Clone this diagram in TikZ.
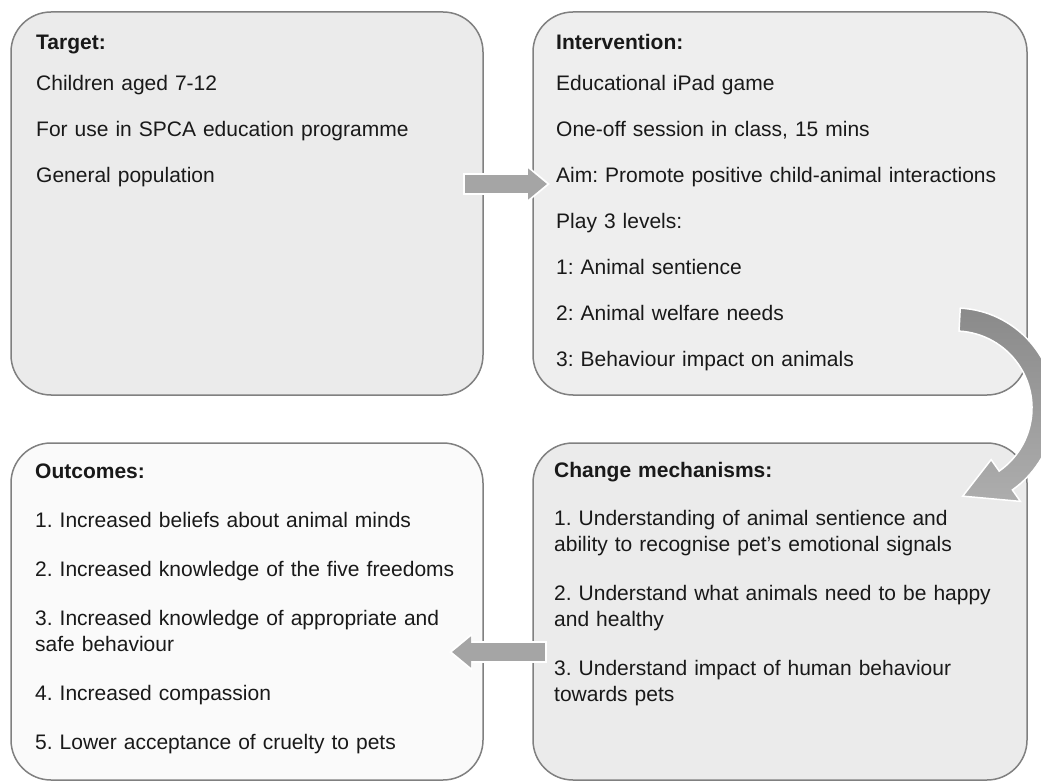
\documentclass[tikz,border=0pt]{standalone}
\usepackage{fontspec}
\setmainfont{Liberation Sans}
\usetikzlibrary{arrows.meta}
\definecolor{boxline}{HTML}{808080}
\definecolor{targetfill}{HTML}{EBEBEB}
\definecolor{interfill}{HTML}{EEEEEE}
\definecolor{mechfill}{HTML}{EBEBEB}
\definecolor{outfill}{HTML}{FAFAFA}
\definecolor{arrowgray}{HTML}{A5A5A5}
\definecolor{curvetop}{HTML}{8A8A8A}
\definecolor{curvebot}{HTML}{ADADAD}
\frenchspacing

\begin{document}
\begin{tikzpicture}[x=1pt,y=1pt]
\tikzset{font=\fontsize{21}{26}\selectfont}
\tikzset{box/.style={draw=boxline, line width=1.5pt, rounded corners=40pt, anchor=north west, inner sep=0pt, outer sep=0pt}}
\tikzset{wide/.style={minimum width=494pt}}
\tikzset{narrow/.style={minimum width=472pt}}
\tikzset{txt/.style={anchor=base west, align=left, text width=480pt, inner sep=0pt, text=black!90}}
\tikzset{blockarrow/.style={draw=arrowgray, line width=18pt, -{Triangle[width=30pt,length=19pt]}, preaction={draw=white, line width=22pt, shorten >=-3pt, shorten <=-2pt, -{Triangle[width=36pt,length=23pt]}}}}
\tikzset{curvearrow/.style={top color=curvetop, bottom color=curvebot, draw=white, line width=1.5pt}}
\useasboundingbox (0,0) rectangle (1041,-783);
\node[box, narrow, minimum height=383pt, fill=targetfill] (target) at (11,-12) {};
\node[box, wide, minimum height=383pt, fill=interfill] (intervention) at (533,-12) {};
\node[box, narrow, minimum height=337pt, fill=outfill] (outcomes) at (11,-443) {};
\node[box, wide, minimum height=337pt, fill=mechfill] (mechanisms) at (533,-443) {};
\node[txt] (targettxt) at ([shift={(25,-37.5)}]target.north west) {\textbf{Target:}\\[15pt]
Children aged 7-12\\[20pt]
For use in SPCA education programme\\[20pt]
General population};
\node[txt] (intertxt) at ([shift={(23,-37.5)}]intervention.north west) {\textbf{Intervention:}\\[15pt]
Educational iPad game\\[20pt]
One-off session in class, 15 mins\\[20pt]
Aim: Promote positive child-animal interactions\\[20pt]
Play 3 levels:\\[20pt]
1: Animal sentience\\[20pt]
2: Animal welfare needs\\[20pt]
3: Behaviour impact on animals};
\node[txt] (outtxt) at ([shift={(24,-35.5)}]outcomes.north west) {\textbf{Outcomes:}\\[23pt]
1. Increased beliefs about animal minds\\[23pt]
2. Increased knowledge of the five freedoms\\[23pt]
3. Increased knowledge of appropriate and\\
safe behaviour\\[23pt]
4. Increased compassion\\[23pt]
5. Lower acceptance of cruelty to pets};
\node[txt] (mechtxt) at ([shift={(21,-34.5)}]mechanisms.north west) {\textbf{Change mechanisms:}\\[22pt]
1. Understanding of animal sentience and\\
ability to recognise pet’s emotional signals\\[23pt]
2. Understand what animals need to be happy\\
and healthy\\[23pt]
3. Understand impact of human behaviour\\
towards pets};
\draw[blockarrow] ([shift={(-18,19.5)}]target.east) -- ([shift={(14,19.5)}]intervention.west);
\draw[blockarrow] ([shift={(12,-40.5)}]mechanisms.west) -- ([shift={(-31,-40.5)}]outcomes.east);
\coordinate (bend) at (955,-408);
\shadedraw[curvearrow, shift={(bend)}] (87:100pt) arc[start angle=87, end angle=-55, radius=100pt] -- (-55:114pt) -- (-85:88.5pt) -- (-55:63pt) -- (-55:77pt) arc[start angle=-55, end angle=87, radius=77pt] -- cycle;
\end{tikzpicture}
\end{document}
